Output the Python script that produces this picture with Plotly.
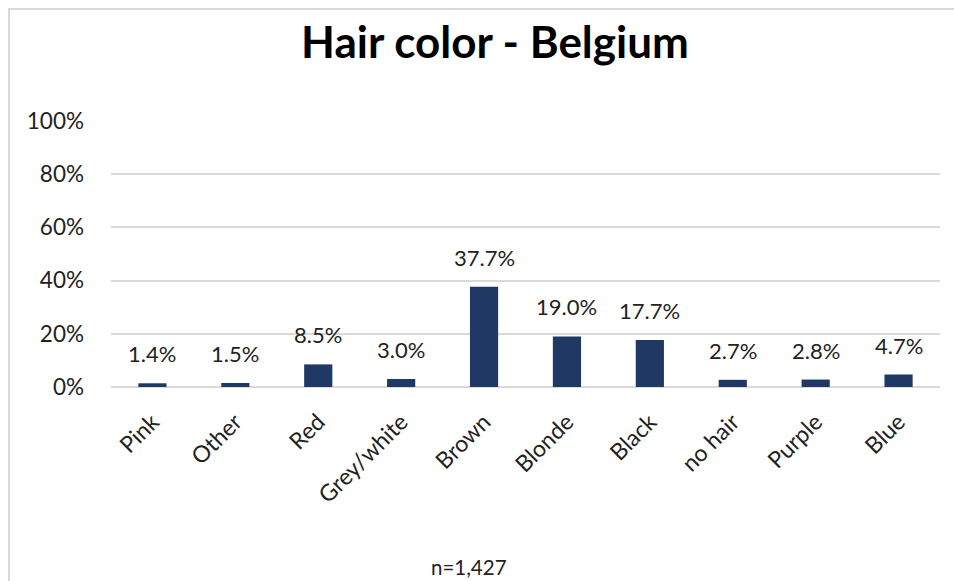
import plotly.graph_objects as go

categories = ["Pink", "Other", "Red", "Grey/white", "Brown", "Blonde", "Black", "no hair", "Purple", "Blue"]
values = [1.4, 1.5, 8.5, 3.0, 37.7, 19.0, 17.7, 2.7, 2.8, 4.7]
tick_vals = [0, 20, 40, 60, 80, 100]
tick_text = ["0%", "20%", "40%", "60%", "80%", "100%"]
title_text = "Hair color - Belgium"
note_text = "n=1,427"

W, H = 954, 581
L, R, T, B = 111, 14, 121, 194
pw, ph = W - L - R, H - T - B

def px(x):
    return (x - L) / pw

def py(y):
    return (H - B - y) / ph

font = "Lato, 'Open Sans', sans-serif"

fig = go.Figure()
fig.add_trace(go.Bar(
    x=categories, y=values,
    marker=dict(color="#203864", line=dict(width=0)),
    width=0.34,
))

for c, v in zip(categories, values):
    fig.add_annotation(x=c, y=v, text=f"{v:.1f}%", showarrow=False,
                       xanchor="center", yanchor="bottom", yshift=14,
                       font=dict(size=22, family=font, color="#222222"))

fig.update_layout(
    width=W, height=H,
    margin=dict(l=L, r=R, t=T, b=B, autoexpand=False),
    paper_bgcolor="white", plot_bgcolor="white",
    showlegend=False,
    font=dict(family=font, size=22, color="#222222"),
    title=dict(text=f"<b>{title_text}</b>", x=px(495), xref="paper", xanchor="center",
               y=1 - 43 / H, yanchor="middle",
               font=dict(size=44, family=font, color="#000000")),
    xaxis=dict(tickangle=-45, tickfont=dict(size=23, family=font, color="#222222"),
               showgrid=False, showline=False, ticks="", ticklabelstandoff=16,
               automargin=False),
    yaxis=dict(range=[0, 100], tickvals=tick_vals, ticktext=tick_text,
               tickfont=dict(size=22.5, family=font, color="#222222"),
               showgrid=True, gridcolor="#d9d9d9", gridwidth=1.5,
               zeroline=True, zerolinecolor="#d9d9d9", zerolinewidth=1.5,
               showline=False, ticks="", ticklabelstandoff=26, automargin=False),
)

fig.add_annotation(text=note_text, xref="paper", yref="paper", x=px(469), y=py(567),
                   showarrow=False, xanchor="center", yanchor="middle",
                   font=dict(size=20.5, family=font, color="#222222"))

fig.add_shape(type="rect", xref="paper", yref="paper",
              x0=px(9), y0=py(590), x1=px(970), y1=py(9),
              line=dict(color="#d9d9d9", width=2), layer="below")

fig.write_html("out.html", config={"displayModeBar": False},
               post_script="document.body.style.margin='0';document.body.style.overflow='hidden';")
